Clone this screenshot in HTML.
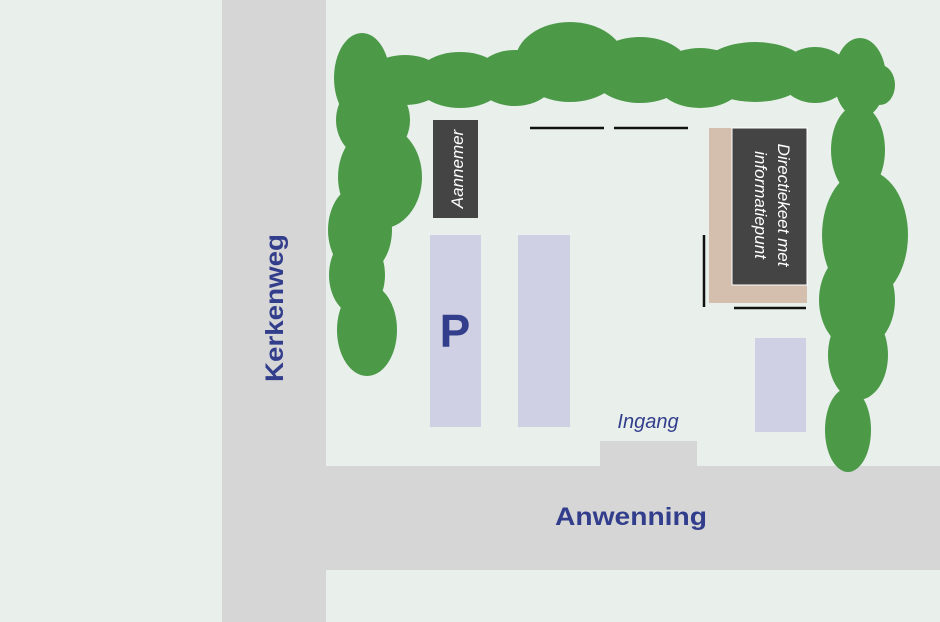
<!DOCTYPE html>
<html><head><meta charset="utf-8"><style>
html,body{margin:0;padding:0;background:#e9f0ec;}
svg{display:block;}
text{font-family:"Liberation Sans",sans-serif;}
</style></head><body>
<svg width="940" height="622" viewBox="0 0 940 622" xmlns="http://www.w3.org/2000/svg">
<rect width="940" height="622" fill="#e9f0ec"/>
<!-- roads -->
<rect x="222" y="0" width="104" height="622" fill="#d6d6d6"/>
<rect x="222" y="466" width="718" height="104" fill="#d6d6d6"/>
<rect x="600" y="441" width="97" height="26" fill="#d6d6d6"/>
<!-- hedge -->
<g fill="#4c9a48">
<ellipse cx="362" cy="78" rx="28" ry="45"/>
<ellipse cx="405" cy="80" rx="40" ry="25"/>
<ellipse cx="460" cy="80" rx="45" ry="28"/>
<ellipse cx="515" cy="78" rx="40" ry="28"/>
<ellipse cx="570" cy="62" rx="55" ry="40"/>
<ellipse cx="640" cy="70" rx="50" ry="33"/>
<ellipse cx="700" cy="78" rx="45" ry="30"/>
<ellipse cx="755" cy="72" rx="55" ry="30"/>
<ellipse cx="815" cy="75" rx="35" ry="28"/>
<ellipse cx="860" cy="78" rx="26" ry="40"/>
<ellipse cx="880" cy="85" rx="15" ry="20"/>
<ellipse cx="373" cy="120" rx="37" ry="40"/>
<ellipse cx="380" cy="177" rx="42" ry="52"/>
<ellipse cx="360" cy="230" rx="32" ry="45"/>
<ellipse cx="357" cy="275" rx="28" ry="40"/>
<ellipse cx="367" cy="330" rx="30" ry="46"/>
<ellipse cx="858" cy="150" rx="27" ry="45"/>
<ellipse cx="865" cy="235" rx="43" ry="65"/>
<ellipse cx="857" cy="300" rx="38" ry="50"/>
<ellipse cx="858" cy="355" rx="30" ry="45"/>
<ellipse cx="848" cy="430" rx="23" ry="42"/>
</g>
<!-- parking -->
<g fill="#d0d0e4">
<rect x="430" y="235" width="51" height="192"/>
<rect x="518" y="235" width="52" height="192"/>
<rect x="755" y="338" width="51" height="94"/>
</g>
<text x="455" y="347" text-anchor="middle" font-size="46" font-weight="bold" fill="#323e8c">P</text>
<!-- buildings -->
<rect x="433" y="120" width="45" height="98" fill="#444"/>
<text transform="translate(463,169) rotate(-90)" text-anchor="middle" font-size="17" font-style="italic" fill="#fff">Aannemer</text>
<rect x="709" y="128" width="98" height="175" fill="#d4bfae"/>
<rect x="732" y="128" width="75" height="157" fill="#444" stroke="#fff" stroke-width="1"/>
<text transform="translate(778,205) rotate(90)" text-anchor="middle" font-size="17" font-style="italic" fill="#fff">Directiekeet met</text>
<text transform="translate(755,205) rotate(90)" text-anchor="middle" font-size="17" font-style="italic" fill="#fff">informatiepunt</text>
<!-- lines -->
<g stroke="#111" stroke-width="2.5">
<line x1="530" y1="128" x2="604" y2="128"/>
<line x1="614" y1="128" x2="688" y2="128"/>
<line x1="704" y1="235" x2="704" y2="307"/>
<line x1="734" y1="308" x2="806" y2="308"/>
</g>
<!-- labels -->
<text transform="translate(283,308) rotate(-90)" text-anchor="middle" font-size="25" font-weight="bold" fill="#323e8c" textLength="148" lengthAdjust="spacingAndGlyphs">Kerkenweg</text>
<text x="631" y="525" text-anchor="middle" font-size="25" font-weight="bold" fill="#323e8c" textLength="152" lengthAdjust="spacingAndGlyphs">Anwenning</text>
<text x="648" y="428" text-anchor="middle" font-size="20" font-style="italic" fill="#323e8c">Ingang</text>
</svg>
</body></html>
